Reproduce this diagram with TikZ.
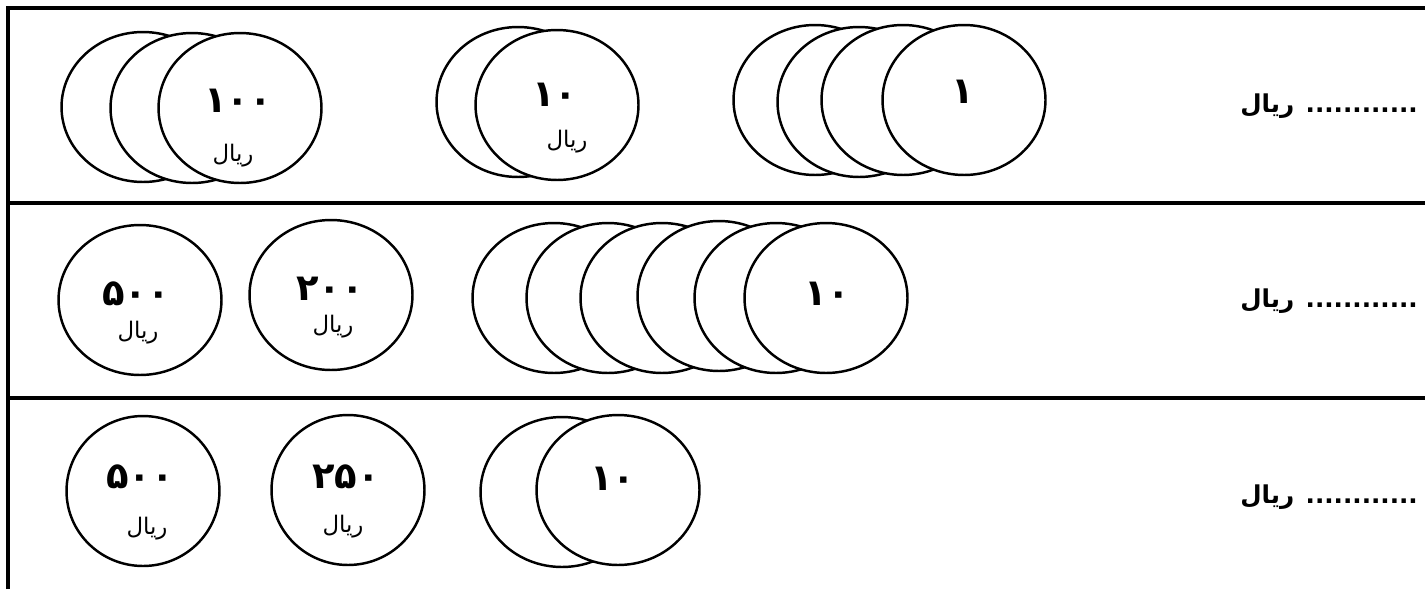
\documentclass[tikz,border=0pt]{standalone}
\usepackage{fontspec}
\usetikzlibrary{shapes.geometric}
\newfontfamily\arabicfont[Script=Arabic]{DejaVu Sans}
\TeXXeTstate=1

\begin{document}
\begin{tikzpicture}[x=0.02cm,y=-0.02cm,
    coin/.style={ellipse,draw,fill=white,line width=1.4pt,minimum width=3.26cm,minimum height=3cm,inner sep=0pt},
    num/.style={font=\arabicfont\bfseries\fontsize{21}{22}\selectfont},
    unit/.style={font=\arabicfont\fontsize{13}{14}\selectfont},
    answer/.style={anchor=east,font=\arabicfont\bfseries\fontsize{14}{16}\selectfont}]
    \useasboundingbox (0,0) rectangle (1425,589);
    \draw[line width=1.8pt] (8,589)--(8,8)--(1425,8);
    \draw[line width=1.8pt] (8,203)--(1425,203);
    \draw[line width=1.8pt] (8,398)--(1425,398);

    \node[coin] (a1) at (143,107) {};
    \node[coin] (a2) at (192,108) {};
    \node[coin] (a3) at (240,108) {};
    \node[num] (a3n) at (238,101) {۱۰۰};
    \node[unit] (a3u) at (233,156) {\beginR ریال\endR};
    \node[coin] (b1) at (518,102) {};
    \node[coin] (b2) at (557,105) {};
    \node[num] (b2n) at (555,95) {۱۰};
    \node[unit] (b2u) at (567,142) {\beginR ریال\endR};
    \node[coin] (c1) at (815,100) {};
    \node[coin] (c2) at (859,102) {};
    \node[coin] (c3) at (903,100) {};
    \node[coin] (c4) at (964,100) {};
    \node[num] (c4n) at (963,92) {۱};
    \node[answer] (ans1) at (1424,106) {\beginR ............ ریال\endR};

    \node[coin] (d1) at (140,300) {};
    \node[num] (d1n) at (136,294) {۵۰۰};
    \node[unit] (d1u) at (138,333) {\beginR ریال\endR};
    \node[coin] (e1) at (331,295) {};
    \node[num] (e1n) at (330,289) {۲۰۰};
    \node[unit] (e1u) at (333,327) {\beginR ریال\endR};
    \node[coin] (f1) at (554,298) {};
    \node[coin] (f2) at (608,298) {};
    \node[coin] (f3) at (662,298) {};
    \node[coin] (f4) at (719,296) {};
    \node[coin] (f5) at (776,298) {};
    \node[coin] (f6) at (826,298) {};
    \node[num] (f6n) at (827,294) {۱۰};
    \node[answer] (ans2) at (1424,301) {\beginR ............ ریال\endR};

    \node[coin,minimum width=3.06cm] (g1) at (143,491) {};
    \node[num] (g1n) at (140,477) {۵۰۰};
    \node[unit] (g1u) at (147,529) {\beginR ریال\endR};
    \node[coin,minimum width=3.06cm] (h1) at (348,490) {};
    \node[num] (h1n) at (346,477) {۲۵۰};
    \node[unit] (h1u) at (343,527) {\beginR ریال\endR};
    \node[coin] (k1) at (562,492) {};
    \node[coin] (k2) at (618,490) {};
    \node[num] (k2n) at (613,479) {۱۰};
    \node[answer] (ans3) at (1424,497) {\beginR ............ ریال\endR};
\end{tikzpicture}
\end{document}
